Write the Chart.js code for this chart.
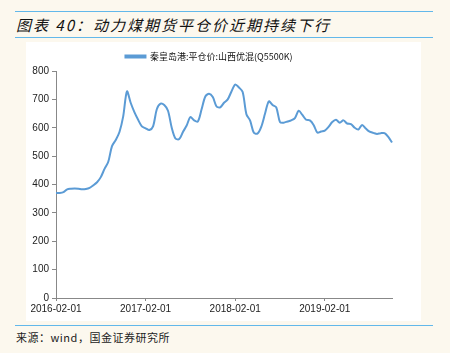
<!DOCTYPE html>
<html><head><meta charset="utf-8">
<script src="https://cdn.jsdelivr.net/npm/chart.js@4"></script>
<style>
html,body{margin:0;padding:0;background:#fcf8ee;width:450px;height:353px;overflow:hidden;position:relative;font-family:"Noto Sans CJK SC",sans-serif}
.rule{position:absolute;left:15px;width:418px;height:0;border-top:1.5px solid #62b8ea}
#title{position:absolute;left:16px;top:12px;font-size:15px;font-style:italic;font-weight:400;color:#111;line-height:26px;white-space:nowrap;letter-spacing:2px}
#panel{position:absolute;left:26px;top:42px;width:395px;height:279px;background:#fff}
#src{position:absolute;left:16px;top:329px;font-size:11px;color:#222;white-space:nowrap;letter-spacing:0.5px;font-family:"Noto Sans CJK SC","DejaVu Serif",serif}
</style></head><body>
<div class="rule" style="top:11px"></div>
<div id="title">图表 40：动力煤期货平仓价近期持续下行</div>
<div class="rule" style="top:37px"></div>
<div id="panel"><canvas id="c" width="395" height="279"></canvas></div>
<div class="rule" style="top:325px"></div>
<div id="src">来源：wind，国金证券研究所</div>
<script>
// semimonthly dates from 2016-02-01 to 2019-11-01
const dates = [];
(function(){for(let y=2016;y<=2019;y++){for(let m=1;m<=12;m++){if(y===2016&&m<2)continue;if(y===2019&&m>11)continue;const mm=String(m).padStart(2,'0');dates.push(y+'-'+mm+'-01');if(!(y===2019&&m===11))dates.push(y+'-'+mm+'-16');}}})();
const seriesName = '秦皇岛港:平仓价:山西优混(Q5500K)';
const prices = [370,370,373,383,385,386,385,383,384,388,397,408,426,455,480,535,557,585,640,728,
688,655,628,605,598,592,605,665,685,680,660,600,562,560,585,608,638,626,622,665,
710,720,708,675,672,688,700,728,752,742,726,648,625,582,580,604,650,693,680,672,
620,618,622,626,634,660,645,628,626,610,583,587,590,603,620,628,618,626,615,613,
600,594,610,597,586,582,578,581,581,568,548];
const tickLabels = ['2016-02-01','2017-02-01','2018-02-01','2019-02-01'];
const yTicks = [0,100,200,300,400,500,600,700,800];

new Chart(document.getElementById('c'),{
  type:'line',
  data:{labels:dates,datasets:[{label:seriesName,data:prices,borderColor:'#5b9bd5',backgroundColor:'#5b9bd5',borderWidth:2,pointRadius:0,tension:0.3}]},
  options:{
    responsive:false,animation:false,
    layout:{padding:{left:0,right:29,top:1,bottom:0}},
    plugins:{
      legend:{display:true,position:'top',labels:{boxWidth:20,boxHeight:2,padding:9,color:'#111',font:{family:'"Noto Sans CJK SC"',size:9}}},
      tooltip:{enabled:false}
    },
    scales:{
      x:{
        type:'category',offset:false,
        grid:{drawOnChartArea:false,drawTicks:true,tickLength:3,color:(ctx)=>tickLabels.includes(dates[ctx.index])?'#888':'rgba(0,0,0,0)'},
        border:{color:'#888',width:1},
        ticks:{autoSkip:false,maxRotation:0,padding:2,color:'#222',font:{family:'"Liberation Sans"',size:10},
          callback:(v,i)=>tickLabels.includes(dates[i])?dates[i]:''},
        afterFit:(s)=>{s.height=23;}
      },
      y:{
        min:0,max:800,
        grid:{drawOnChartArea:false,drawTicks:true,tickLength:4,color:'#888'},
        border:{color:'#888',width:1},
        ticks:{stepSize:100,padding:3,color:'#222',font:{family:'"Liberation Sans"',size:10}},
        afterBuildTicks:(s)=>{s.ticks=yTicks.map(v=>({value:v}));},
        afterFit:(s)=>{s.width=30;}
      }
    }
  }
});
</script>
</body></html>
